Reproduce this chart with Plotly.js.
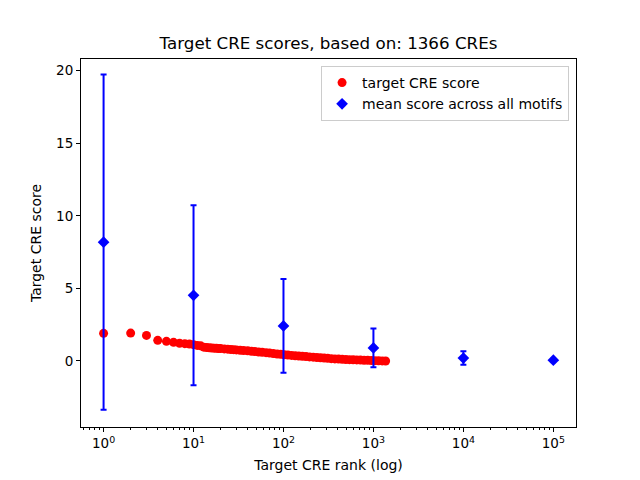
<!DOCTYPE html>
<html><head><meta charset="utf-8">
<script src="https://cdn.plot.ly/plotly-3.0.1.min.js"></script>
<style>html,body{margin:0;padding:0;background:#fff}#chart{width:640px;height:480px}</style>
</head><body><div id="chart"></div>
<script>
// Red series: target CRE score by rank
const creRanks = [1,2,3,4,5,6,7,8,9,10,11,12,13,14,15,16,17,18,19,20,
  22,24,26,28,30,33,36,40,44,48,53,58,64,70,77,85,93,102,112,123,135,148,162,178,195,
  214,235,258,283,310,340,373,410,450,494,542,595,653,717,787,864,948,1040,1141,1252,1366];
const creScores = [1.90,1.92,1.76,1.42,1.35,1.28,1.22,1.19,1.17,1.12,1.07,1.04,0.95,0.92,0.91,0.89,0.88,0.87,0.86,0.85,
  0.83,0.81,0.79,0.78,0.76,0.74,0.72,0.70,0.67,0.65,0.62,0.60,0.57,0.54,0.51,0.48,0.46,0.43,0.41,0.38,0.36,0.34,0.32,0.30,0.28,
  0.26,0.24,0.22,0.20,0.18,0.16,0.14,0.13,0.11,0.10,0.09,0.08,0.07,0.06,0.05,0.04,0.03,0.02,0.01,0.005,0.0];
// Blue series: mean score across all motifs
const motifRanks = [1,10,100,1000,10000,100000];
const motifMeans = [8.18,4.52,2.41,0.9,0.2,0.05];
const motifErr = [11.55,6.2,3.23,1.33,0.47,0.04];
// Tick labels
const xTickVals = [1,10,100,1000,10000,100000];
const xTickText = ['10<sup>0</sup>','10<sup>1</sup>','10<sup>2</sup>','10<sup>3</sup>','10<sup>4</sup>','10<sup>5</sup>'];
const yTickVals = [0,5,10,15,20];

const font = 'DejaVu Sans, sans-serif';
const traces = [
  {x: creRanks, y: creScores, type:'scatter', mode:'markers', name:'target CRE score',
   marker:{color:'#ff0000', size:9}},
  {x: motifRanks, y: motifMeans, type:'scatter', mode:'markers', name:'mean score across all motifs',
   marker:{color:'#0000ff', size:9, symbol:'diamond'},
   error_y:{type:'data', array: motifErr, visible:true, color:'#0000ff', thickness:2, width:3}}
];
const axisCommon = {showline:true, mirror:true, linecolor:'#000', linewidth:1, ticks:'outside',
  tickcolor:'#000', ticklen:4, showgrid:false, zeroline:false, tickfont:{size:13.5, color:'#000', family:font}};
const layout = {
  width:640, height:480, paper_bgcolor:'#fff', plot_bgcolor:'#fff',
  margin:{l:81, r:64, t:59, b:53},
  font:{family:font, color:'#000'},
  title:{text:'Target CRE scores, based on: 1366 CREs', font:{size:16.7, family:font, color:'#000'},
         x:0.5, xref:'paper', xanchor:'center', y:0.91, yanchor:'middle'},
  xaxis: Object.assign({}, axisCommon, {type:'log', range:[-0.251, 5.252],
    tickvals:xTickVals, ticktext:xTickText,
    minor:{ticks:'outside', ticklen:2, tickcolor:'#000', dtick:'D1', showgrid:false},
    title:{text:'Target CRE rank (log)', font:{size:14, family:font, color:'#000'}, standoff:9}}),
  yaxis: Object.assign({}, axisCommon, {range:[-4.55, 20.8], tickvals:yTickVals,
    title:{text:'Target CRE score', font:{size:14, family:font, color:'#000'}, standoff:11}}),
  legend:{x:0.986, y:0.981, xanchor:'right', yanchor:'top', bgcolor:'rgba(255,255,255,0.8)',
    bordercolor:'#cccccc', borderwidth:1, font:{size:14, family:font, color:'#000'}},
  showlegend:true
};
Plotly.newPlot('chart', traces, layout, {displayModeBar:false, staticPlot:true});
</script>
</body></html>
